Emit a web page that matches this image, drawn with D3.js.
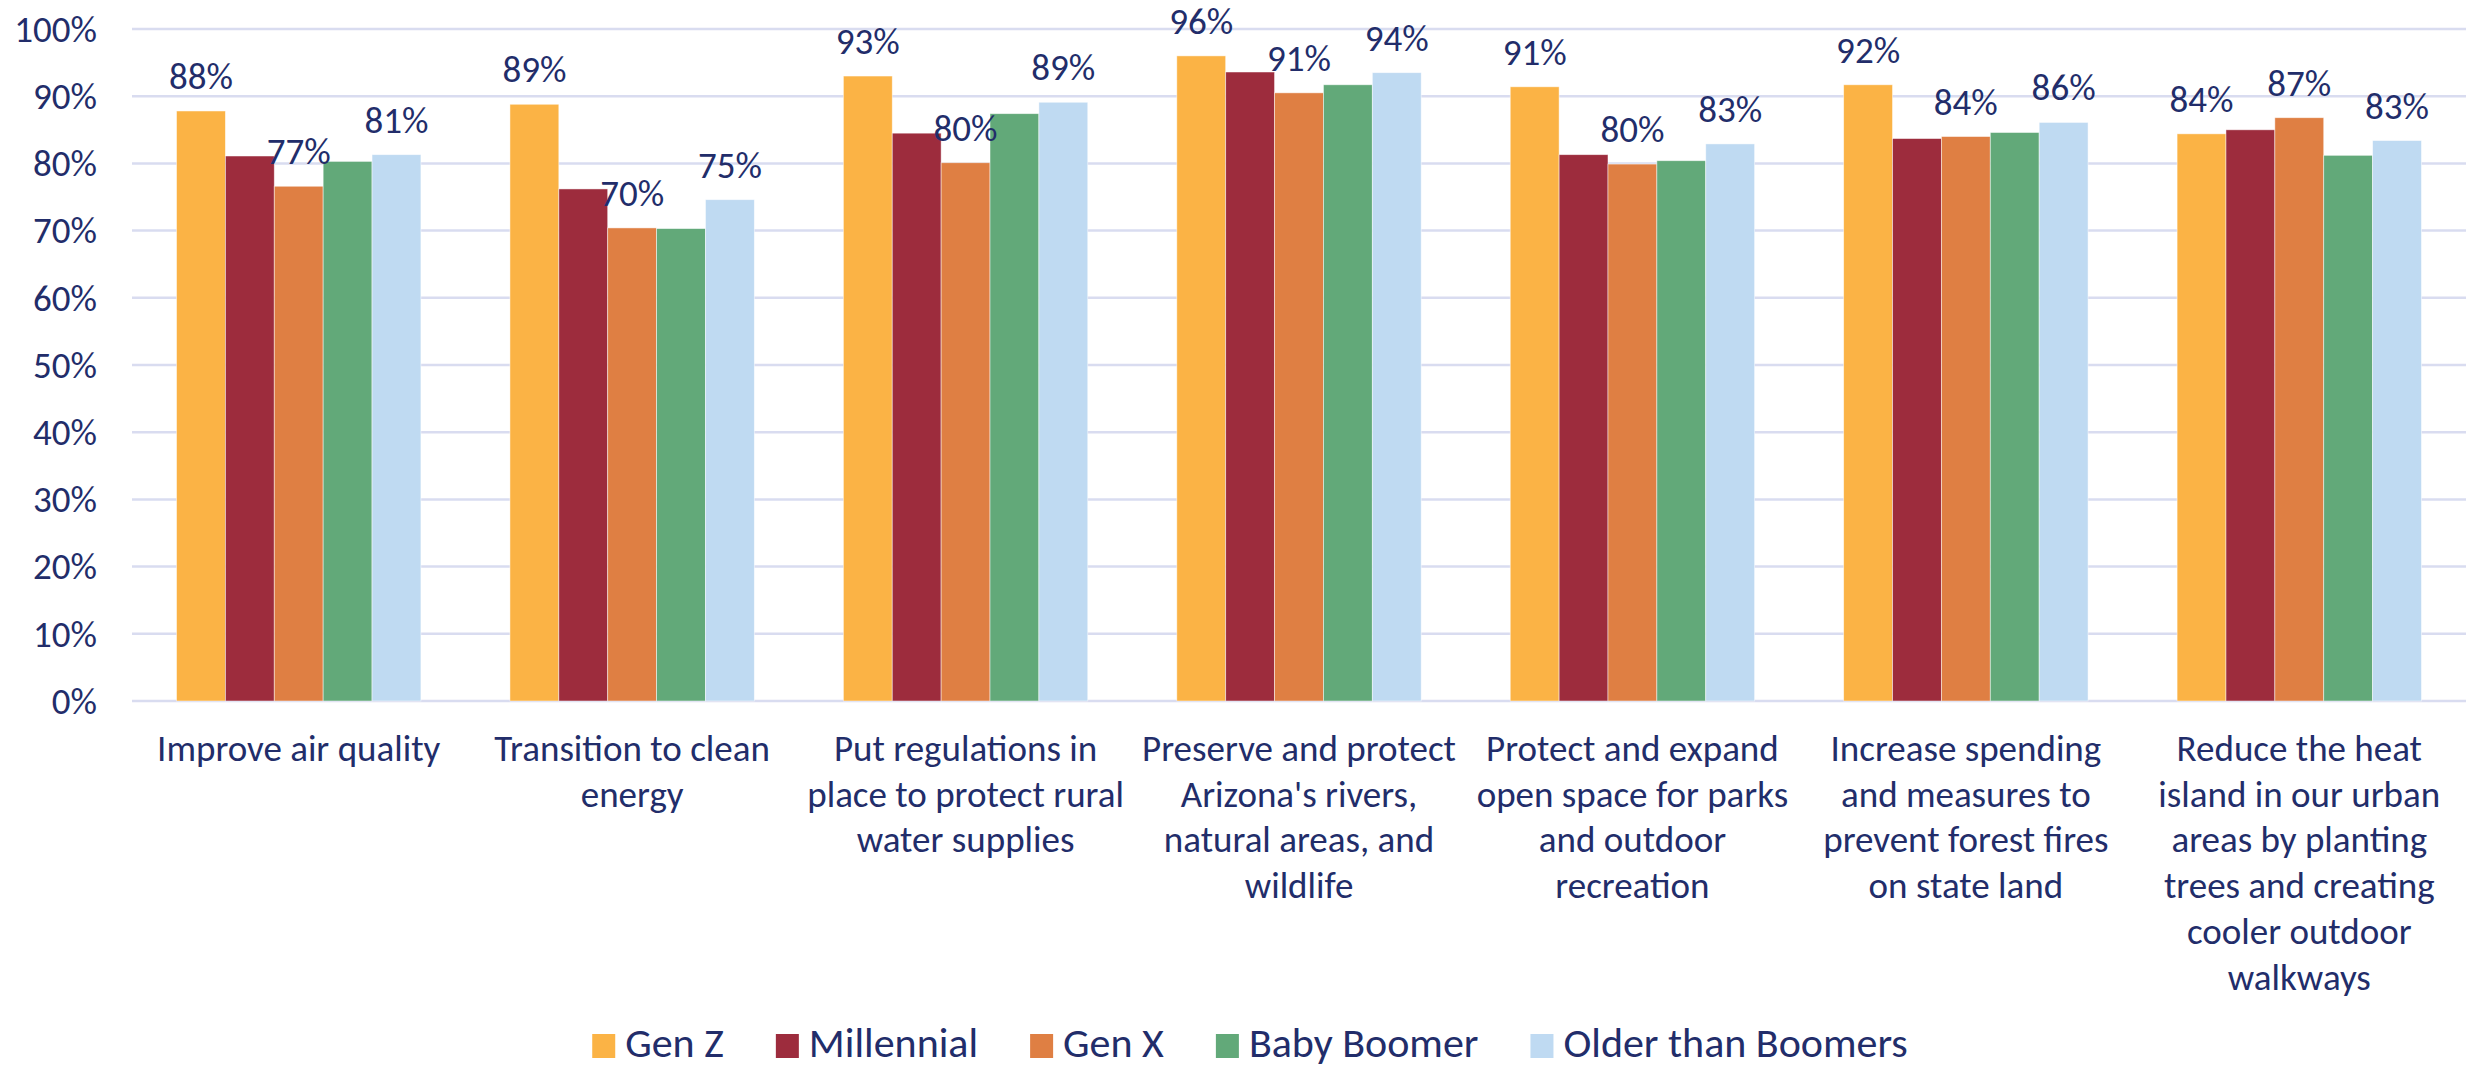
<!DOCTYPE html>
<html>
<head>
<meta charset="utf-8">
<script src="https://cdn.jsdelivr.net/npm/d3@7"></script>
<style>
  html, body { margin: 0; padding: 0; background: #fff; }
  svg text { font-family: Calibri, Carlito, "Noto Sans", sans-serif; fill: #222d6a; }
</style>
</head>
<body>
<div id="chart"></div>
<script>
// categories, each split into the lines shown under the axis
const categories = [
  ["Improve air quality"],
  ["Transition to clean", "energy"],
  ["Put regulations in", "place to protect rural", "water supplies"],
  ["Preserve and protect", "Arizona's rivers,", "natural areas, and", "wildlife"],
  ["Protect and expand", "open space for parks", "and outdoor", "recreation"],
  ["Increase spending", "and measures to", "prevent forest fires", "on state land"],
  ["Reduce the heat", "island in our urban", "areas by planting", "trees and creating", "cooler outdoor", "walkways"]
];

const seriesNames = ["Gen Z", "Millennial", "Gen X", "Baby Boomer", "Older than Boomers"];
const seriesColors = ["#fbb345", "#9d2c3d", "#df7f43", "#62a979", "#bfdaf2"];

// percent values, one array per series
const genZ       = [87.8, 88.8, 93.0, 96.0, 91.4, 91.7, 84.4];
const millennial = [81.1, 76.2, 84.5, 93.6, 81.3, 83.7, 85.0];
const genX       = [76.6, 70.4, 80.1, 90.5, 79.9, 84.0, 86.8];
const boomer     = [80.3, 70.3, 87.4, 91.7, 80.4, 84.6, 81.2];
const older      = [81.3, 74.6, 89.1, 93.5, 82.9, 86.1, 83.4];
const seriesValues = [genZ, millennial, genX, boomer, older];

// only these series carry data labels in the original
const labelledSeries = ["Gen Z", "Gen X", "Older than Boomers"];

const yTicks = [0, 10, 20, 30, 40, 50, 60, 70, 80, 90, 100];

const width = 2468, height = 1067;
const plot = { left: 132, right: 2466, top: 29, bottom: 701 };

const svg = d3.select("#chart").append("svg")
  .attr("width", width)
  .attr("height", height);

const x0 = d3.scaleBand()
  .domain(d3.range(categories.length))
  .range([plot.left, plot.right])
  .paddingInner(0.267)
  .paddingOuter(0.1335);

const x1 = d3.scaleBand()
  .domain(seriesNames)
  .range([0, x0.bandwidth()]);

const y = d3.scaleLinear().domain([0, 100]).range([plot.bottom, plot.top]);

const color = d3.scaleOrdinal().domain(seriesNames).range(seriesColors);

// gridlines
svg.append("g")
  .selectAll("line")
  .data(yTicks)
  .join("line")
  .attr("x1", plot.left)
  .attr("x2", plot.right)
  .attr("y1", (d) => y(d))
  .attr("y2", (d) => y(d))
  .attr("stroke", "#d9dcf0")
  .attr("stroke-width", 2.5);

// y axis labels
const yAxisG = svg.append("g")
  .attr("transform", `translate(${plot.left},0)`)
  .call(d3.axisLeft(y).tickValues(yTicks).tickSize(0).tickPadding(35).tickFormat((d) => d + "%"));
yAxisG.select(".domain").remove();
yAxisG.selectAll("text")
  .attr("font-size", 37)
  .attr("dy", "0.33em")
  .attr("fill", "#222d6a");

// bars
const rows = seriesNames.map((name, si) => ({ name, values: seriesValues[si] }));

const groups = svg.append("g")
  .selectAll("g")
  .data(d3.range(categories.length))
  .join("g")
  .attr("transform", (i) => `translate(${x0(i)},0)`);

groups.selectAll("rect")
  .data((i) => rows.map((r) => ({ name: r.name, value: r.values[i] })))
  .join("rect")
  .attr("x", (d) => x1(d.name))
  .attr("width", x1.bandwidth())
  .attr("y", (d) => y(d.value))
  .attr("height", (d) => y(0) - y(d.value))
  .attr("fill", (d) => color(d.name))
  .attr("stroke", "#ffffff")
  .attr("stroke-width", 0.8)
  .attr("stroke-opacity", 0.6);

// data labels
groups.selectAll("text.val")
  .data((i) => rows.filter((r) => labelledSeries.includes(r.name)).map((r) => ({ name: r.name, value: r.values[i] })))
  .join("text")
  .attr("class", "val")
  .attr("x", (d) => x1(d.name) + x1.bandwidth() / 2)
  .attr("y", (d) => y(d.value) - 22)
  .attr("text-anchor", "middle")
  .attr("font-size", 37)
  .text((d) => Math.round(d.value) + "%");

// category axis
const xAxisG = svg.append("g")
  .attr("transform", `translate(0,${plot.bottom})`)
  .call(d3.axisBottom(x0).tickSize(0).tickFormat(""));
xAxisG.select(".domain").remove();
xAxisG.selectAll(".tick text")
  .attr("y", 60)
  .attr("dy", 0)
  .attr("font-size", 37)
  .each(function (i) {
    const t = d3.select(this);
    categories[i].forEach((line, k) => {
      t.append("tspan")
        .attr("x", 0)
        .attr("dy", k === 0 ? 0 : 45.7)
        .text(line);
    });
  });

// legend
const legend = svg.append("g").attr("transform", "translate(0,1046)");
const items = legend.selectAll("g")
  .data(seriesNames)
  .join("g");
items.append("rect")
  .attr("y", -12)
  .attr("width", 23)
  .attr("height", 24)
  .attr("fill", (d) => color(d));
items.append("text")
  .attr("x", 33)
  .attr("y", 11)
  .attr("font-size", 42)
  .text((d) => d);

let cursor = 0;
const offsets = [];
items.each(function () {
  offsets.push(cursor);
  const w = this.querySelector("text").getComputedTextLength();
  cursor += 33 + w + 52;
});
const totalW = cursor - 52;
const startX = 1250 - totalW / 2;
items.attr("transform", (d, i) => `translate(${startX + offsets[i]},0)`);
</script>
</body>
</html>
